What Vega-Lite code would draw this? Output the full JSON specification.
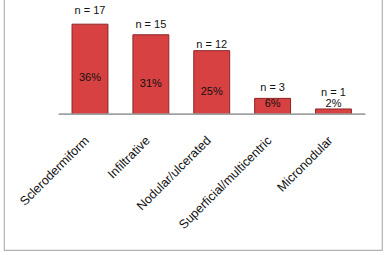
{
  "$schema": "https://vega.github.io/schema/vega-lite/v6.json",
  "width": 378,
  "height": 251,
  "autosize": {"type": "none"},
  "padding": {"left": 4, "top": -1, "right": 5, "bottom": 5},
  "background": "white",
  "config": {
    "view": {"stroke": "#b3b3b3", "strokeWidth": 1.2},
    "font": "Liberation Sans"
  },
  "data": {
    "values": [
      {"type": "Sclerodermiform", "n": 17, "nlab": "n = 17", "pct": "36%"},
      {"type": "Infiltrative", "n": 15, "nlab": "n = 15", "pct": "31%"},
      {"type": "Nodular/ulcerated", "n": 12, "nlab": "n = 12", "pct": "25%"},
      {"type": "Superficial/multicentric", "n": 3, "nlab": "n = 3", "pct": "6%"},
      {"type": "Micronodular", "n": 1, "nlab": "n = 1", "pct": "2%"}
    ]
  },
  "encoding": {
    "x": {
      "field": "type",
      "type": "nominal",
      "sort": null,
      "scale": {"paddingInner": 0.41, "paddingOuter": 0.81, "align": 0.69},
      "axis": {
        "title": null,
        "orient": "bottom",
        "offset": -136,
        "domain": false,
        "ticks": false,
        "labelAngle": -45,
        "labelAlign": "right",
        "labelBaseline": "middle",
        "labelPadding": 24,
        "labelOffset": -3,
        "labelFontSize": 12.5,
        "labelColor": "#111111",
        "labelFont": "Liberation Sans",
        "labelOverlap": false,
        "labelLimit": 0
      }
    }
  },
  "layer": [
    {
      "mark": {"type": "bar", "fill": "#d84141", "stroke": "#8c2626", "strokeWidth": 1},
      "encoding": {
        "y": {"field": "n", "type": "quantitative", "scale": {"domain": [-25.61, 21.75], "nice": false, "zero": false}, "axis": null},
        "y2": {"datum": 0}
      }
    },
    {
      "mark": {"type": "rule", "color": "#a0a0a0", "strokeWidth": 1},
      "encoding": {
        "x": {"datum": "Sclerodermiform", "bandPosition": -0.367},
        "x2": {"datum": "Micronodular", "bandPosition": 1.383},
        "y": {"datum": 0, "type": "quantitative", "scale": {"domain": [-25.61, 21.75], "nice": false, "zero": false}, "axis": null}
      }
    },
    {
      "mark": {"type": "text", "fontSize": 11, "color": "#111111", "baseline": "middle", "font": "Liberation Sans"},
      "encoding": {
        "y": {"field": "n", "type": "quantitative", "scale": {"type": "pow", "exponent": 1.5, "domain": [-25.77, 18.56], "nice": false, "zero": false}, "axis": null},
        "text": {"field": "nlab"}
      }
    },
    {
      "mark": {"type": "text", "fontSize": 11, "color": "#111111", "baseline": "middle", "font": "Liberation Sans"},
      "encoding": {
        "y": {"field": "n", "type": "quantitative", "scale": {"type": "pow", "exponent": 2, "domain": [-40.21, 34.24], "nice": false, "zero": false}, "axis": null},
        "text": {"field": "pct"}
      }
    }
  ],
  "resolve": {"scale": {"y": "independent"}}
}
